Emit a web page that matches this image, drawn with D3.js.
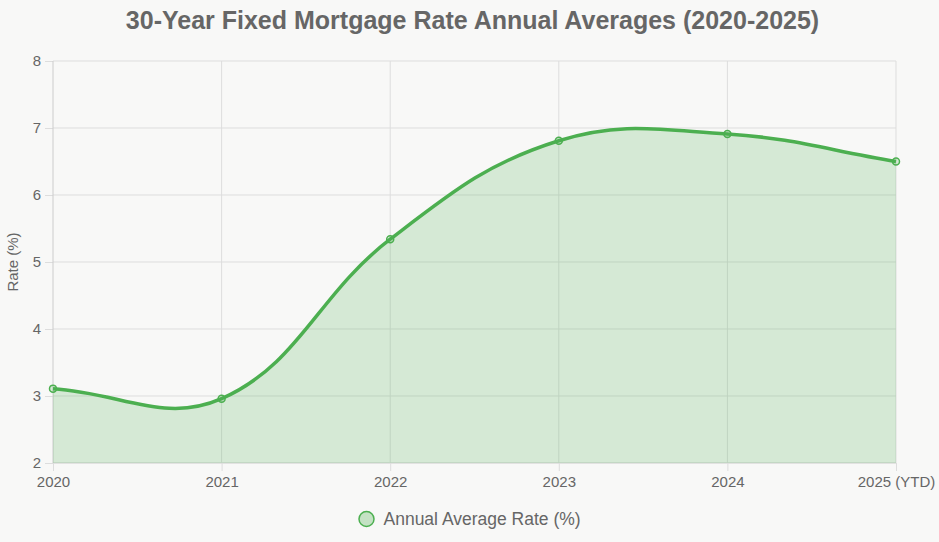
<!DOCTYPE html>
<html>
<head>
<meta charset="utf-8">
<script src="https://cdn.jsdelivr.net/npm/d3@7"></script>
<style>
  html, body { margin: 0; padding: 0; background: #f8f8f7; }
  svg { display: block; font-family: "Liberation Sans", Arial, sans-serif; }
</style>
</head>
<body>
<div id="graphique"></div>
<script>
// donnees
const annees = ["2020", "2021", "2022", "2023", "2024", "2025 (YTD)"];
const taux = [3.11, 2.96, 5.34, 6.81, 6.91, 6.50];
const ticksY = [2, 3, 4, 5, 6, 7, 8];

const largeur = 939, hauteur = 542;
const marge = { haut: 61, droite: 43, bas: 79, gauche: 53 };
const tension = 0.4;

const svg = d3.select("#graphique").append("svg")
    .attr("width", largeur)
    .attr("height", hauteur);

const x = d3.scalePoint()
    .domain(annees)
    .range([marge.gauche, largeur - marge.droite]);

const y = d3.scaleLinear()
    .domain([2, 8])
    .range([hauteur - marge.bas, marge.haut]);

// titre
svg.append("text")
    .attr("x", largeur / 2 + 3)
    .attr("y", 29)
    .attr("text-anchor", "middle")
    .attr("font-size", 25)
    .attr("font-weight", "bold")
    .attr("fill", "#666")
    .text("30-Year Fixed Mortgage Rate Annual Averages (2020-2025)");

// grille + axes
const axeY = svg.append("g")
    .attr("transform", "translate(" + marge.gauche + ",0)")
    .call(d3.axisLeft(y).tickValues(ticksY).tickSize(8).tickPadding(4)
        .tickFormat(d3.format("d")));
axeY.select(".domain").remove();
axeY.selectAll(".tick line").attr("stroke", "#ddd");
axeY.selectAll(".tick text").attr("font-size", 15).attr("fill", "#666");

svg.append("g").selectAll("line")
    .data(ticksY)
    .join("line")
    .attr("x1", marge.gauche)
    .attr("x2", largeur - marge.droite)
    .attr("y1", d => y(d))
    .attr("y2", d => y(d))
    .attr("stroke", d => d === 2 ? "#ccc" : "#ddd");

const axeX = svg.append("g")
    .attr("transform", "translate(0," + (hauteur - marge.bas) + ")")
    .call(d3.axisBottom(x).tickSize(8).tickPadding(5));
axeX.select(".domain").remove();
axeX.selectAll(".tick line").attr("stroke", "#ddd");
axeX.selectAll(".tick text").attr("font-size", 15).attr("fill", "#666");

svg.append("g").selectAll("line")
    .data(annees)
    .join("line")
    .attr("x1", d => x(d))
    .attr("x2", d => x(d))
    .attr("y1", marge.haut)
    .attr("y2", hauteur - marge.bas)
    .attr("stroke", (d, i) => i === 0 ? "#ccc" : "#ddd");

// titre axe Y
svg.append("text")
    .attr("transform", "translate(18,262) rotate(-90)")
    .attr("text-anchor", "middle")
    .attr("font-size", 15)
    .attr("fill", "#666")
    .text("Rate (%)");

// courbe facon spline (points de controle calcules en pixels)
const points = annees.map((a, i) => [x(a), y(taux[i])]);

function controles(pts) {
    const res = [];
    for (let i = 0; i < pts.length; i++) {
        const prec = pts[Math.max(i - 1, 0)];
        const cour = pts[i];
        const suiv = pts[Math.min(i + 1, pts.length - 1)];
        const d01 = Math.hypot(cour[0] - prec[0], cour[1] - prec[1]);
        const d12 = Math.hypot(suiv[0] - cour[0], suiv[1] - cour[1]);
        let s01 = d01 / (d01 + d12);
        let s12 = d12 / (d01 + d12);
        if (isNaN(s01)) s01 = 0;
        if (isNaN(s12)) s12 = 0;
        const fa = tension * s01, fb = tension * s12;
        res.push({
            avant: [cour[0] - fa * (suiv[0] - prec[0]), cour[1] - fa * (suiv[1] - prec[1])],
            apres: [cour[0] + fb * (suiv[0] - prec[0]), cour[1] + fb * (suiv[1] - prec[1])]
        });
    }
    return res;
}

const cp = controles(points);

function trace(ctx) {
    ctx.moveTo(points[0][0], points[0][1]);
    for (let i = 1; i < points.length; i++) {
        const a = cp[i - 1].apres, b = cp[i].avant;
        ctx.bezierCurveTo(a[0], a[1], b[0], b[1], points[i][0], points[i][1]);
    }
    return ctx;
}

const ligne = trace(d3.path());
const aire = trace(d3.path());
aire.lineTo(points[points.length - 1][0], y(2));
aire.lineTo(points[0][0], y(2));
aire.closePath();

svg.append("path")
    .attr("d", aire.toString())
    .attr("fill", "rgba(76,175,80,0.2)");

svg.append("path")
    .attr("d", ligne.toString())
    .attr("fill", "none")
    .attr("stroke", "#4CAF50")
    .attr("stroke-width", 3.5);

svg.append("g").selectAll("circle")
    .data(taux)
    .join("circle")
    .attr("cx", (d, i) => x(annees[i]))
    .attr("cy", d => y(d))
    .attr("r", 3.5)
    .attr("fill", "rgba(76,175,80,0.2)")
    .attr("stroke", "#4CAF50")
    .attr("stroke-width", 1.5);

// legende
const legende = svg.append("g").attr("transform", "translate(" + (largeur / 2) + ",519)");
legende.append("circle")
    .attr("cx", -103)
    .attr("cy", 0)
    .attr("r", 7.5)
    .attr("fill", "rgba(76,175,80,0.3)")
    .attr("stroke", "#4CAF50")
    .attr("stroke-width", 1.5);
legende.append("text")
    .attr("x", -86)
    .attr("y", 6)
    .attr("font-size", 17.5)
    .attr("fill", "#666")
    .text("Annual Average Rate (%)");
</script>
</body>
</html>
